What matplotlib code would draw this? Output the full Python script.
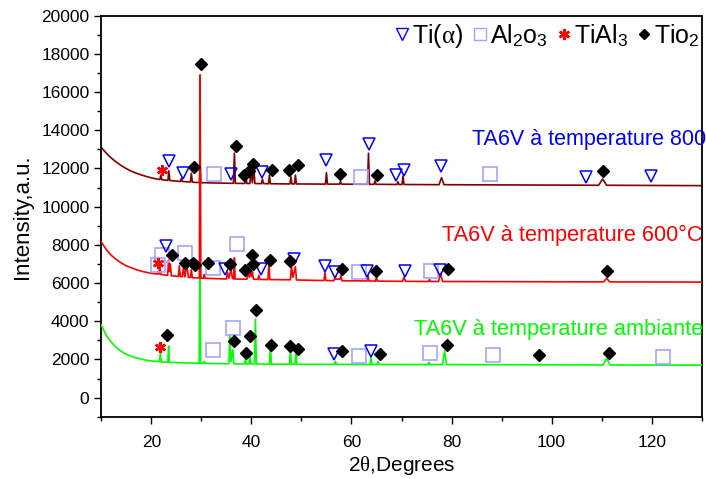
import matplotlib
matplotlib.use("Agg")
import matplotlib.pyplot as plt
from matplotlib.ticker import MultipleLocator
from matplotlib.lines import Line2D

plt.rcParams['font.family'] = ['Liberation Sans', 'DejaVu Sans']
plt.rcParams['mathtext.fontset'] = 'custom'
plt.rcParams['mathtext.rm'] = 'Liberation Sans'
plt.rcParams['mathtext.it'] = 'Liberation Serif'
plt.rcParams['mathtext.bf'] = 'Liberation Sans:bold'

# TA6V 800 (dark red)
x800 = [10, 11, 12, 13, 14, 15, 16, 17, 18, 19, 20, 21,
        21.7, 21.9, 22.1, 23.3, 23.5, 23.7, 25.8, 26.0, 26.2, 27.8, 28.0, 28.2,
        29.6, 29.75, 29.9, 36.4, 36.6, 36.8, 38.7, 38.9, 39.1,
        39.7, 39.9, 40.2, 40.5, 40.7, 42.0, 42.2, 42.4, 43.4, 43.6, 43.8,
        47.7, 47.9, 48.1, 48.6, 48.8, 49.0, 54.8, 55.0, 55.2, 57.6, 57.8, 58.0,
        63.2, 63.4, 63.6, 64.5, 64.7, 64.9, 69.1, 69.3, 69.5, 70.1, 70.3, 70.5,
        77.5, 78.0, 78.5, 109.4, 110.2, 111.0, 130]
y800 = [13100, 12800, 12550, 12330, 12150, 11990, 11860, 11750, 11660, 11580, 11510, 11450,
        11420, 11650, 11410, 11370, 11880, 11370, 11320, 11480, 11320, 11290, 11750, 11280,
        11260, 12200, 11255, 11220, 12800, 11220, 11215, 11550, 11215,
        11210, 11900, 11250, 12000, 11210, 11205, 11450, 11205, 11200, 11650, 11200,
        11190, 11560, 11190, 11190, 11650, 11190, 11180, 11780, 11180, 11180, 11320, 11180,
        11170, 12800, 11170, 11170, 11350, 11170, 11160, 11300, 11160, 11160, 11600, 11160,
        11150, 11520, 11150, 11120, 11450, 11120, 11100]

# TA6V 600 (red)
x600 = [10, 11, 12, 13, 14, 15, 16, 17, 18, 19, 20,
        21.1, 21.3, 21.5, 21.7, 21.9, 23.25, 23.45, 23.6, 23.8, 24.0,
        25.4, 25.6, 25.8, 26.2, 26.4, 26.7, 27.1, 27.4, 27.8, 28.0, 28.2,
        29.6, 29.75, 29.9, 30.45, 30.6, 30.75, 35.0, 35.2, 35.5, 35.9, 36.2,
        36.45, 36.6, 36.75, 39.1, 39.3, 39.6, 39.9, 40.05, 40.2, 40.4,
        41.3, 41.5, 41.7, 43.3, 43.5, 43.7, 47.8, 48.0, 48.3, 48.8, 49.0,
        54.5, 54.7, 54.9, 56.5, 56.7, 56.9, 57.7, 57.9, 58.1, 63.1, 63.3, 63.5,
        64.8, 65.0, 65.2, 70.2, 70.5, 70.8, 75.4, 75.6, 75.8, 77.4, 77.8, 78.2,
        110.4, 111.0, 111.6, 130]
y600 = [8150, 7750, 7450, 7230, 7050, 6900, 6800, 6700, 6620, 6560, 6510,
        6470, 6560, 6460, 6900, 6450, 6400, 7200, 6600, 7000, 6380,
        6340, 6900, 6340, 6330, 6800, 6320, 7000, 6300, 6290, 6700, 6280,
        6260, 16900, 6260, 6250, 6450, 6250, 6210, 6560, 6250, 6700, 6260,
        6210, 7320, 6210, 6200, 6560, 6300, 6800, 6350, 6600, 6200,
        6190, 6400, 6190, 6180, 7030, 6180, 6170, 6860, 6300, 6860, 6160,
        6130, 6550, 6130, 6120, 6350, 6200, 6200, 6400, 6120, 6110, 6400, 6110,
        6100, 6300, 6100, 6090, 6300, 6090, 6080, 6200, 6080, 6080, 6500, 6080,
        6060, 6250, 6060, 6050]

# TA6V ambiante (green)
xamb = [10, 11, 12, 13, 14, 15, 16, 17, 18, 19, 20,
        21.6, 21.8, 22.0, 23.3, 23.45, 23.6, 29.55, 29.7, 29.85, 30.45, 30.6, 30.75,
        35.5, 35.7, 35.9, 36.3, 36.5, 38.6, 38.8, 39.0, 39.5, 39.7, 39.9,
        40.6, 40.8, 41.0, 43.6, 43.8, 44.0, 47.6, 47.8, 48.0, 48.7, 48.9, 49.1,
        56.6, 56.8, 57.0, 63.7, 63.9, 64.1, 65.1, 65.3, 65.5, 75.3, 75.5, 75.7,
        78.2, 78.6, 79.0, 110.3, 111.0, 111.7, 130]
yamb = [3800, 3250, 2900, 2620, 2420, 2270, 2160, 2080, 2010, 1960, 1920,
        1880, 2300, 1870, 1850, 2700, 1845, 1800, 7000, 1800, 1790, 1900, 1790,
        1770, 3300, 1900, 2500, 1770, 1760, 2000, 1760, 1760, 2200, 1760,
        1760, 4100, 1760, 1750, 2750, 1750, 1750, 2500, 1750, 1750, 2450, 1745,
        1740, 1900, 1740, 1735, 2100, 1735, 1735, 1900, 1735, 1730, 1850, 1730,
        1730, 2450, 1730, 1710, 2050, 1710, 1700]

# phase markers: Ti(alpha)
tri_x = [23.5, 26.3, 35.9, 42.1, 55.0, 63.5, 69.0, 70.5, 77.8, 106.9, 119.9,
         23.0, 34.8, 41.9, 48.5, 54.7, 56.7, 63.1, 70.6, 77.7,
         56.5, 64.0]
tri_y = [12390, 11760, 11730, 11810, 12430, 13270, 11640, 11940, 12110, 11540, 11590,
         7930, 6740, 6740, 7270, 6900, 6600, 6650, 6650, 6700,
         2290, 2450]
# Al2O3
sq_x = [32.6, 61.9, 87.7,
        21.3, 22.2, 26.8, 32.4, 37.2, 61.5, 75.8,
        32.4, 36.4, 61.5, 75.7, 88.3, 122.2]
sq_y = [11730, 11550, 11690,
        6950, 7490, 7580, 6770, 8020, 6600, 6650,
        2490, 3640, 2190, 2350, 2240, 2140]
# TiAl3
star_x = [22.1, 21.4, 21.7]
star_y = [11940, 7060, 2630]
# TiO2
dia_x = [28.5, 36.9, 38.6, 39.5, 40.3, 44.1, 47.6, 49.3, 57.8, 65.2, 110.2,
         29.95, 24.2, 26.8, 28.3, 28.8, 31.4, 35.8, 38.7, 40.2, 40.4, 43.7, 47.8,
         58.1, 65.0, 79.3, 111.0,
         23.2, 36.6, 39.0, 39.7, 41.0, 44.0, 47.7, 49.4, 58.2, 65.7, 79.0, 97.4, 111.4]
dia_y = [12080, 13160, 11680, 11850, 12220, 11940, 11900, 12160, 11730, 11680, 11850,
         17450, 7490, 7060, 7060, 6950, 7040, 7000, 6690, 7490, 7000, 7230, 7180,
         6760, 6650, 6760, 6650,
         3290, 2980, 2360, 3240, 4590, 2760, 2700, 2550, 2450, 2290, 2760, 2240, 2350]

fig = plt.figure(figsize=(7.06, 4.79), dpi=100)
ax = fig.add_axes([101.3 / 706, 1 - 416.7 / 479, 600.4 / 706, 401.0 / 479])

ax.plot(x800, y800, color='#800000', lw=1.2, zorder=2)
ax.plot(xamb, yamb, color='#00ff00', lw=1.2, zorder=3)
ax.plot(x600, y600, color='#ff0000', lw=1.2, zorder=4)

ax.plot(sq_x, sq_y, ls='none', marker='s', ms=10, mfc='none', mec='#a4a4ff', mew=1.2, zorder=5)
ax.plot(tri_x, tri_y, ls='none', marker='v', ms=9, mfc='none', mec='#0000ff', mew=1.1, zorder=6)
ax.plot(star_x, star_y, ls='none', marker=(6, 2, 0), ms=8, color='#ff0000', mew=1.8, zorder=6)
ax.plot(dia_x, dia_y, ls='none', marker='D', ms=6, color='black', zorder=7)

ax.set_xlim(10, 130)
ax.set_ylim(-1000, 20000)
ax.xaxis.set_major_locator(MultipleLocator(20))
ax.xaxis.set_minor_locator(MultipleLocator(10))
ax.yaxis.set_major_locator(MultipleLocator(2000))
ax.yaxis.set_minor_locator(MultipleLocator(1000))
ax.tick_params(which='major', direction='out', length=5, width=1, labelsize=12.5)
ax.tick_params(axis='x', which='major', pad=8)
ax.tick_params(which='minor', direction='out', length=3, width=1)
for s in ax.spines.values():
    s.set_linewidth(1.3)

ax.set_xlabel(r'2$\theta$,Degrees', fontsize=15, labelpad=3)
ax.set_ylabel('Intensity,a.u.', fontsize=16, labelpad=6)

fig.text(1.0, 1 - 139 / 479, 'TA6V à temperature 800', color='#0000ff', fontsize=15.5,
         ha='right', va='center')
fig.text(703 / 706, 1 - 235 / 479, 'TA6V à temperature 600°C', color='#ff0000', fontsize=15.7,
         ha='right', va='center')
fig.text(703 / 706, 1 - 330 / 479, 'TA6V à temperature ambiante', color='#00ff00', fontsize=15.7,
         ha='right', va='center')

handles = [
    Line2D([], [], ls='none', marker='v', ms=8, mfc='none', mec='#0000ff'),
    Line2D([], [], ls='none', marker='s', ms=8, mfc='none', mec='#a4a4ff'),
    Line2D([], [], ls='none', marker=(6, 2, 0), ms=8, color='#ff0000', mew=1.8),
    Line2D([], [], ls='none', marker='D', ms=5, color='black'),
]
labels = [r'Ti$(\alpha)$', r'Al$_\mathrm{2}$o$_\mathrm{3}$', r'TiAl$_\mathrm{3}$', r'Tio$_\mathrm{2}$']
ax.legend(handles, labels, ncol=4, frameon=False, loc='upper right',
          bbox_to_anchor=(1.018, 1.015), fontsize=18, handlelength=0.6,
          handletextpad=0.1, columnspacing=0.35, borderaxespad=0.1)

fig.savefig('out.png', dpi=100)
